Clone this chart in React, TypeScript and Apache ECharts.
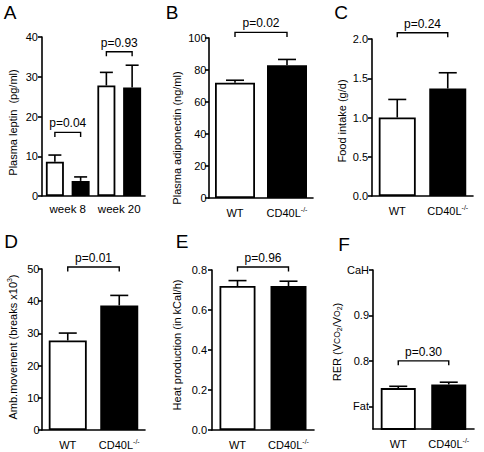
import React, { useEffect, useRef } from "react";
import * as echarts from "echarts";

const FONT = "'Liberation Sans', Arial, Helvetica, sans-serif";

// ---------- data ----------
// Panel A: plasma leptin (pg/ml)
const leptinCategories = ["WT week 8", "CD40L week 8", "WT week 20", "CD40L week 20"];
const leptinGroupLabels = ["week 8", "week 20"];
const leptinMean = [8.6, 3.8, 27.8, 27.3];
const leptinSem = [1.7, 1.0, 3.3, 5.6];
const leptinBrackets = [[0, 1, 16.0], [2, 3, 36.3]];
const leptinP = ["p=0.04", "p=0.93"];

// Shared categories for panels B-F
const genotypes = ["WT", "CD40L"];

// Panel B: plasma adiponectin (ng/ml)
const adiponectinMean = [72, 83];
const adiponectinSem = [1.6, 3.6];
const adiponectinBrackets = [[0, 1, 103.5]];
const adiponectinP = ["p=0.02"];

// Panel C: food intake (g/d)
const foodMean = [1.0, 1.37];
const foodSem = [0.23, 0.2];
const foodBrackets = [[0, 1, 2.08]];
const foodP = ["p=0.24"];

// Panel D: ambulatory movement (breaks x10^3)
const ambMean = [27.8, 38.7];
const ambSem = [2.3, 3.1];
const ambBrackets = [[0, 1, 50.6]];
const ambP = ["p=0.01"];

// Panel E: heat production (kCal/h)
const heatMean = [0.72, 0.72];
const heatSem = [0.027, 0.024];
const heatBrackets = [[0, 1, 0.815]];
const heatP = ["p=0.96"];

// Panel F: RER
const rerMean = [0.74, 0.748];
const rerSem = [0.004, 0.005];
const rerBrackets = [[0, 1, 0.8]];
const rerP = ["p=0.30"];
const rerTickValues = [0.7, 0.8, 0.9, 1.0];

const panelLetters = ["A", "B", "C", "D", "E", "F"];

// ---------- helpers ----------
const black = "#000";

const errorRender = (half: number) => (params: any, api: any) => {
  const x = api.value(0);
  const m = api.value(1);
  const e = api.value(2);
  const b = api.coord([x, m]);
  const t = api.coord([x, m + e]);
  return {
    type: "group",
    children: [
      { type: "line", shape: { x1: b[0], y1: b[1], x2: t[0], y2: t[1] }, style: { stroke: black, lineWidth: 1.6 } },
      { type: "line", shape: { x1: t[0] - half, y1: t[1], x2: t[0] + half, y2: t[1] }, style: { stroke: black, lineWidth: 1.6 } },
    ],
  };
};

const bracketRender = (labels: string[]) => (params: any, api: any) => {
  const p1 = api.coord([api.value(0), api.value(2)]);
  const p2 = api.coord([api.value(1), api.value(2)]);
  return {
    type: "group",
    children: [
      {
        type: "polyline",
        shape: { points: [[p1[0], p1[1] + 4.5], [p1[0], p1[1]], [p2[0], p2[1]], [p2[0], p2[1] + 4.5]] },
        style: { stroke: black, lineWidth: 1.4, fill: null },
      },
      {
        type: "text",
        style: {
          text: labels[params.dataIndex],
          x: (p1[0] + p2[0]) / 2,
          y: p1[1] - 3,
          align: "center",
          verticalAlign: "bottom",
          fontSize: 12,
          fontFamily: FONT,
          fill: black,
        },
      },
    ],
  };
};

const wtStyle = { color: "#fff", borderColor: black, borderWidth: 1.8 };
const koStyle = { color: black, borderColor: black, borderWidth: 1.8 };

const richSup = {
  sup: { fontSize: 7, lineHeight: 8, verticalAlign: "top", fontFamily: FONT, color: black },
  sc: { fontSize: 8.5, fontFamily: FONT, color: black },
  sub: { fontSize: 7, lineHeight: 8, verticalAlign: "bottom", fontFamily: FONT, color: black },
};

type Panel = {
  grid: { left: number; top: number; width: number; height: number };
  cats: string[];
  mean: number[];
  sem: number[];
  styles: any[];
  barWidth: number;
  cap: number;
  brackets: number[][];
  pLabels: string[];
  yMin: number;
  yMax: number;
  yInterval?: number;
  yName: string;
  nameGap: number;
  namePad: number[];
  labelMargin: number;
  showCatLabels: boolean;
  customTicks?: number[];
  formatter?: (v: number) => string;
};

const panels: Panel[] = [
  {
    grid: { left: 42, top: 37, width: 103, height: 159 },
    cats: leptinCategories, mean: leptinMean, sem: leptinSem,
    styles: [wtStyle, koStyle, wtStyle, koStyle], barWidth: 18, cap: 6.5,
    brackets: leptinBrackets, pLabels: leptinP,
    yMin: 0, yMax: 40, yInterval: 10, yName: "Plasma leptin  (pg/ml)", nameGap: 23, namePad: [0, 12, 0, 0],
    labelMargin: 4, showCatLabels: false,
  },
  {
    grid: { left: 209, top: 38, width: 104, height: 160 },
    cats: genotypes, mean: adiponectinMean, sem: adiponectinSem,
    styles: [wtStyle, koStyle], barWidth: 40, cap: 9,
    brackets: adiponectinBrackets, pLabels: adiponectinP,
    yMin: 0, yMax: 100, yInterval: 20, yName: "Plasma adiponectin (ng/ml)", nameGap: 26, namePad: [0, 40, 0, 0],
    labelMargin: 2.5, showCatLabels: true,
  },
  {
    grid: { left: 372, top: 39, width: 101, height: 157 },
    cats: genotypes, mean: foodMean, sem: foodSem,
    styles: [wtStyle, koStyle], barWidth: 37, cap: 9,
    brackets: foodBrackets, pLabels: foodP,
    yMin: 0, yMax: 2, yInterval: 0.5, yName: "Food intake (g/d)", nameGap: 23, namePad: [0, 7, 0, 0],
    labelMargin: 4, showCatLabels: true,
    formatter: (v: number) => v.toFixed(1),
  },
  {
    grid: { left: 42, top: 269, width: 103, height: 161 },
    cats: genotypes, mean: ambMean, sem: ambSem,
    styles: [wtStyle, koStyle], barWidth: 38, cap: 9,
    brackets: ambBrackets, pLabels: ambP,
    yMin: 0, yMax: 50, yInterval: 10, yName: "Amb.movement (breaks x10{sup|3})", nameGap: 23, namePad: [0, 0, 0, 5],
    labelMargin: 2.5, showCatLabels: true,
  },
  {
    grid: { left: 212, top: 270, width: 102, height: 160 },
    cats: genotypes, mean: heatMean, sem: heatSem,
    styles: [wtStyle, koStyle], barWidth: 36, cap: 9,
    brackets: heatBrackets, pLabels: heatP,
    yMin: 0, yMax: 0.8, yInterval: 0.2, yName: "Heat production (in kCal/h)", nameGap: 29, namePad: [0, 0, 0, 10],
    labelMargin: 5, showCatLabels: true,
    formatter: (v: number) => v.toFixed(1),
  },
  {
    grid: { left: 373, top: 270, width: 101, height: 159 },
    cats: genotypes, mean: rerMean, sem: rerSem,
    styles: [wtStyle, koStyle], barWidth: 35, cap: 9,
    brackets: rerBrackets, pLabels: rerP,
    yMin: 0.65, yMax: 1.0, yName: "RER (V{sc|CO}{sub|2}/V{sc|O}{sub|2})", nameGap: 30, namePad: [0, 0, 0, 15],
    labelMargin: 4, showCatLabels: true,
    customTicks: rerTickValues,
    formatter: (v: number) => (Math.abs(v - 1) < 1e-6 ? "CaH" : Math.abs(v - 0.7) < 1e-6 ? "Fat" : v.toFixed(1)),
  },
];

const letterPos = [
  [10, 12], [172, 12], [341, 12], [11, 241], [182, 241], [344, 244],
];

function buildOption() {
  const grid: any[] = [];
  const xAxis: any[] = [];
  const yAxis: any[] = [];
  const series: any[] = [];
  const axisLine = { show: true, onZero: false, lineStyle: { color: black, width: 1.6 } };

  panels.forEach((p, i) => {
    grid.push({ ...p.grid, containLabel: false });
    xAxis.push({
      gridIndex: i,
      type: "category",
      data: p.cats,
      axisLine,
      axisTick: { show: false },
      axisLabel: {
        show: p.showCatLabels,
        interval: 0,
        hideOverlap: false,
        color: black,
        fontSize: 11,
        fontFamily: FONT,
        margin: 8,
        lineHeight: 13,
        formatter: (v: string) => (v === "CD40L" ? "CD40L{sup|-/-}" : v),
        rich: richSup,
      },
    });
    const y: any = {
      gridIndex: i,
      type: "value",
      min: p.yMin,
      max: p.yMax,
      axisLine,
      axisTick: { show: true, length: 4, lineStyle: { color: black, width: 1.6 } },
      axisLabel: {
        color: black,
        fontSize: 11,
        fontFamily: FONT,
        margin: p.labelMargin,
        formatter: p.formatter,
      },
      splitLine: { show: false },
      name: p.yName,
      nameLocation: "middle",
      nameRotate: 90,
      nameGap: p.nameGap,
      nameTextStyle: { color: black, fontSize: 11, fontFamily: FONT, lineHeight: 13, padding: p.namePad, rich: richSup },
    };
    if (p.yInterval !== undefined) y.interval = p.yInterval;
    if (p.customTicks) {
      y.axisTick.customValues = p.customTicks;
      y.axisLabel.customValues = p.customTicks;
    }
    yAxis.push(y);
  });

  // extra label axis for panel A groups
  xAxis.push({
    gridIndex: 0,
    type: "category",
    data: leptinGroupLabels,
    position: "bottom",
    axisLine: { show: false },
    axisTick: { show: false },
    axisLabel: { interval: 0, hideOverlap: false, color: black, fontSize: 11.5, fontFamily: FONT, margin: 7 },
  });

  panels.forEach((p, i) => {
    series.push({
      type: "bar",
      xAxisIndex: i,
      yAxisIndex: i,
      barWidth: p.barWidth,
      data: p.mean.map((v, k) => ({ value: v, itemStyle: p.styles[k] })),
      clip: true,
      z: 2,
    });
    series.push({
      type: "custom",
      xAxisIndex: i,
      yAxisIndex: i,
      renderItem: errorRender(p.cap),
      data: p.mean.map((v, k) => [k, v, p.sem[k]]),
      encode: { x: 0, y: 1 },
      z: 1,
      clip: false,
    });
    series.push({
      type: "custom",
      xAxisIndex: i,
      yAxisIndex: i,
      renderItem: bracketRender(p.pLabels),
      data: p.brackets,
      encode: { x: [0, 1], y: 2 },
      z: 3,
      clip: false,
    });
  });

  const graphic = panelLetters.map((t, i) => ({
    type: "text",
    x: letterPos[i][0],
    y: letterPos[i][1],
    style: { text: t, fontSize: 19, fontFamily: FONT, fill: black, align: "center", verticalAlign: "middle" },
  }));

  return {
    animation: false,
    backgroundColor: "#fff",
    grid,
    xAxis,
    yAxis,
    series,
    graphic,
  };
}

export default function App() {
  const ref = useRef<HTMLDivElement>(null);
  useEffect(() => {
    document.body.style.margin = "0";
    const chart = echarts.init(ref.current!, undefined, { renderer: "svg" });
    chart.setOption(buildOption() as any);
    return () => chart.dispose();
  }, []);
  return <div ref={ref} style={{ width: 484, height: 452 }} />;
}
